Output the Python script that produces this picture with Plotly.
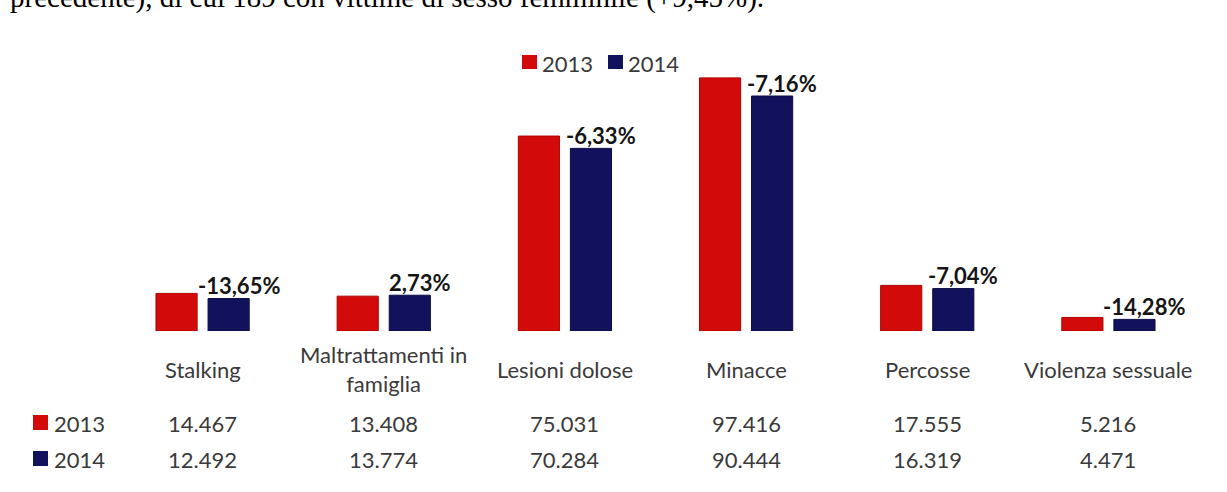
import plotly.graph_objects as go

# Reati denunciati: confronto 2013 / 2014
categories = ["Stalking", "Maltrattamenti in famiglia", "Lesioni dolose",
              "Minacce", "Percosse", "Violenza sessuale"]
category_labels = ["Stalking", "Maltrattamenti in<br>famiglia", "Lesioni dolose",
                   "Minacce", "Percosse", "Violenza sessuale"]
years = ["2013", "2014"]
values_2013 = [14467, 13408, 75031, 97416, 17555, 5216]
values_2014 = [12492, 13774, 70284, 90444, 16319, 4471]
caption = "precedente), di cui 189 con vittime di sesso femminile (+9,45%)."

RED = "#D20A0A"
BLUE = "#12125C"
TEXT = "#3A3A3A"
SANS = "Lato"
FS = 22

# page geometry (pixels)
W, H = 1227, 492
L, R, T, B = 112, 28, 40, 161
PW, PH = W - L - R, H - T - B


def px(x):
    return (x - L) / PW


def py(y):
    return (H - B - y) / PH


def it_int(v):
    return f"{v:,}".replace(",", ".")


def it_pct(a, b):
    return f"{(b / a - 1) * 100:.2f}".replace(".", ",") + "%"


fig = go.Figure()
fig.add_trace(go.Bar(x=categories, y=values_2013, name=years[0],
                     marker=dict(color=RED, line=dict(color="#B00000", width=1))))
fig.add_trace(go.Bar(x=categories, y=values_2014, name=years[1],
                     marker=dict(color=BLUE, line=dict(color="#0B0B45", width=1))))

ann = []
# variation labels above the 2014 bars
for c, a, b in zip(categories, values_2013, values_2014):
    ann.append(dict(x=c, y=b, xref="x", yref="y", text=f"<b>{it_pct(a, b)}</b>",
                    showarrow=False, xanchor="center", yanchor="middle",
                    xshift=36, yshift=13,
                    font=dict(family=SANS, size=FS, color="#151515")))
# category names under the bars
for c, lab in zip(categories, category_labels):
    ann.append(dict(x=c, y=py(369), xref="x", yref="paper", text=lab,
                    showarrow=False, xanchor="center", yanchor="middle",
                    font=dict(family=SANS, size=FS, color=TEXT)))
# data table
for row_y, vals in ((423, values_2013), (459, values_2014)):
    for c, v in zip(categories, vals):
        ann.append(dict(x=c, y=py(row_y), xref="x", yref="paper", text=it_int(v),
                        showarrow=False, xanchor="center", yanchor="middle",
                        font=dict(family=SANS, size=FS, color=TEXT)))

shapes = []
# table row keys
for row_y, year, col in ((423, years[0], RED), (459, years[1], BLUE)):
    shapes.append(dict(type="rect", xref="paper", yref="paper",
                       x0=px(33), x1=px(48), y0=py(row_y - 8), y1=py(row_y + 7),
                       fillcolor=col, line=dict(width=0)))
    ann.append(dict(x=px(52), y=py(row_y), xref="paper", yref="paper", text=year,
                    showarrow=False, xanchor="left", yanchor="middle",
                    font=dict(family=SANS, size=FS, color=TEXT)))

# top legend
for x0, year, col in ((522, years[0], RED), (608, years[1], BLUE)):
    shapes.append(dict(type="rect", xref="paper", yref="paper",
                       x0=px(x0), x1=px(x0 + 15), y0=py(69), y1=py(55),
                       fillcolor=col, line=dict(width=0)))
    ann.append(dict(x=px(x0 + 18), y=py(63), xref="paper", yref="paper", text=year,
                    showarrow=False, xanchor="left", yanchor="middle",
                    font=dict(family=SANS, size=FS, color=TEXT)))

# running text of the page, cut at the top edge
ann.append(dict(x=px(8), y=py(-3), xref="paper", yref="paper", text=caption,
                showarrow=False, xanchor="left", yanchor="middle",
                font=dict(family="Liberation Serif", size=29, color="#000000")))

fig.update_layout(
    width=W, height=H,
    margin=dict(l=L, r=R, t=T, b=B, pad=0),
    paper_bgcolor="white", plot_bgcolor="white",
    barmode="group", bargap=0.425, bargroupgap=0.21,
    showlegend=False,
    xaxis=dict(visible=False, type="category"),
    yaxis=dict(visible=False, range=[0, 112000]),
    annotations=ann, shapes=shapes,
)

fig.write_html("out.html")
